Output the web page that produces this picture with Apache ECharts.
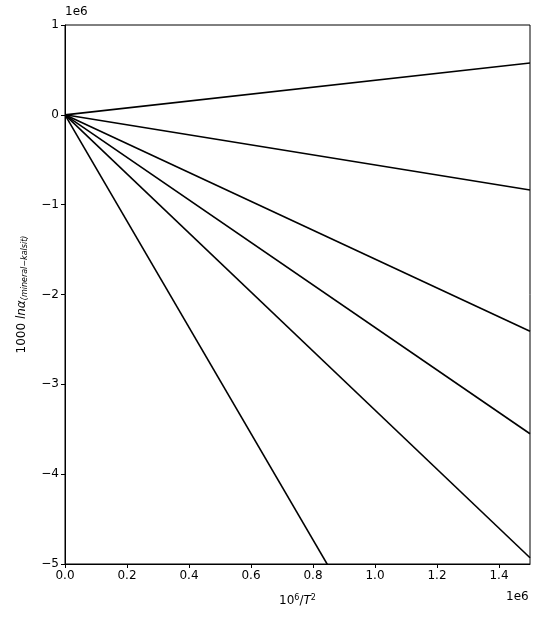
<!DOCTYPE html><html><head><meta charset="utf-8"><script src="https://cdn.jsdelivr.net/npm/echarts@6/dist/echarts.min.js"></script></head><body style="margin:0"><div id="c" style="width:539px;height:623px"></div><script>
const xEnd = [1.5e6, 1.5e6, 1.5e6, 1.5e6, 1.5e6, 1.5e6];
const yEnd = [0.577e6, -0.837e6, -2.41e6, -3.55e6, -4.93e6, -8.87e6];
const xTicks = [0, 0.2, 0.4, 0.6, 0.8, 1.0, 1.2, 1.4];
const yTicks = [1, 0, -1, -2, -3, -4, -5];
const fmt = v => (v < 0 ? '\u2212' : '') + Math.abs(v);
const series = yEnd.map((y, i) => ({type:'line', data:[[0,0],[xEnd[i], y]], symbol:'none', clip:true,
  lineStyle:{color:'#000', width:1.6}, animation:false}));
const font = 'DejaVu Sans';
const chart = echarts.init(document.getElementById('c'));
chart.setOption({
  animation:false,
  grid:{left:65, right:9, top:25, bottom:59, show:true, borderColor:'#000', borderWidth:1},
  xAxis:{type:'value', min:0, max:1.5e6, interval:0.2e6, splitLine:{show:false},
    axisLine:{onZero:false, lineStyle:{color:'#000'}}, axisTick:{length:4, lineStyle:{color:'#000'}},
    axisLabel:{color:'#000', fontFamily:font, fontSize:12, margin:6, showMaxLabel:false, formatter:v=>(v/1e6).toFixed(1)},
    name:'{a|10}{s|6}{a|/}{i|T}{s|2}', nameLocation:'middle', nameGap:30,
    nameTextStyle:{rich:{a:{fontFamily:font,fontSize:12,color:'#000'},i:{fontFamily:font,fontSize:12,fontStyle:'italic',color:'#000'},s:{fontFamily:font,fontSize:8,color:'#000',verticalAlign:'top',padding:[0,0,6,0]}}}},
  yAxis:{type:'value', min:-5e6, max:1e6, interval:1e6, splitLine:{show:false},
    axisLine:{onZero:false, lineStyle:{color:'#000'}}, axisTick:{length:4, lineStyle:{color:'#000'}},
    axisLabel:{color:'#000', fontFamily:font, fontSize:12, margin:6, formatter:v=>fmt(Math.round(v/1e6))},
    name:'{a|1000 }{i|ln\u03b1}{s|(mineral\u2212kalsit)}', nameLocation:'middle', nameGap:36,
    nameTextStyle:{rich:{a:{fontFamily:font,fontSize:12,color:'#000'},i:{fontFamily:font,fontSize:12,fontStyle:'italic',color:'#000'},s:{fontFamily:font,fontSize:8,fontStyle:'italic',color:'#000',verticalAlign:'bottom',padding:[6,0,0,0]}}}},
  graphic:[
    {type:'text', left:65, top:6, style:{text:'1e6', font:'12px DejaVu Sans', fill:'#000'}},
    {type:'text', left:506, top:591, style:{text:'1e6', font:'12px DejaVu Sans', fill:'#000'}}
  ],
  series
});
</script></body></html>
